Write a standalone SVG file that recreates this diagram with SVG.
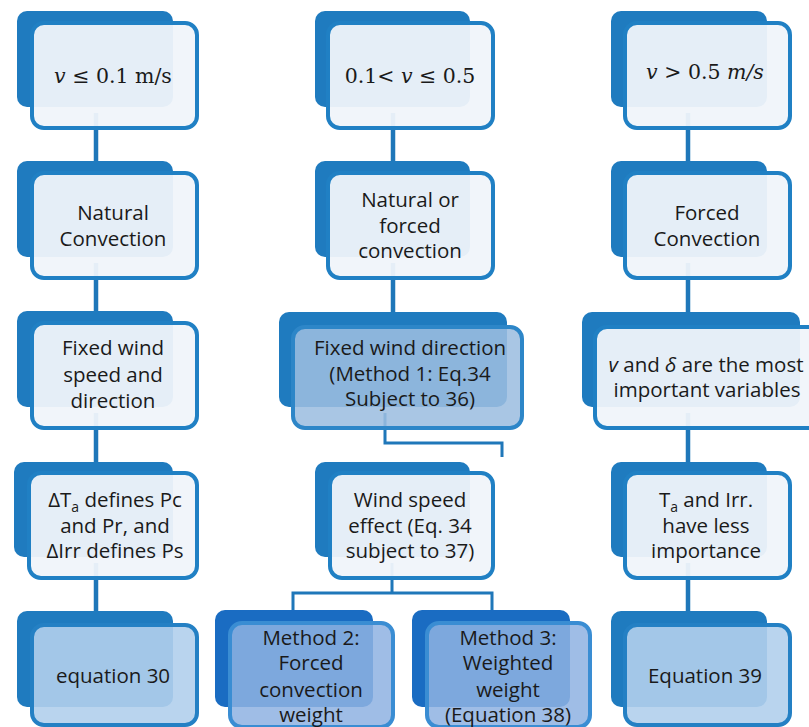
<svg xmlns="http://www.w3.org/2000/svg" width="809" height="727" viewBox="0 0 809 727">
<style>
.back{fill:#1f7bbf}
.backm{fill:#1a6cc2}
.front{fill:#f0f4fa;fill-opacity:.95;stroke:#2080c4;stroke-width:4}
.sel{fill:#9dbee0;fill-opacity:.875;stroke:#2d86c8;stroke-width:4}
.meth{fill:#8fb2e2;fill-opacity:.856;stroke:#3a8dd3;stroke-width:4}
.eq{fill:#b1cfec;fill-opacity:.9;stroke:#2480c4;stroke-width:4}
.t{font-family:"Open Sans","Noto Sans",sans-serif;font-size:20.5px;fill:#1a1a1a;text-anchor:middle}
.m{font-family:"DejaVu Serif","Liberation Serif",serif;font-size:20.5px;fill:#1a1a1a;text-anchor:middle}
.i{font-style:italic}
.sub{font-size:14px}
.c{fill:none;stroke:#1f77b9;stroke-width:4.5}
.cb{fill:none;stroke:#1f77b9;stroke-width:3}
</style>
<g id="connectors">
<path class="c" d="M96 113V161M96 263V311M96 413V462M96 563V611"/>
<path class="c" d="M393 113V161M393 263V312"/>
<path class="cb" d="M385 413V443H502V457"/>
<path class="cb" d="M392 563V593M293 610V593H492V610"/>
<path class="c" d="M688 113V161M688 263V312M688 413V462M688 563V611"/>
</g>
<g id="n1">
<rect class="back" x="17" y="11" width="156" height="96" rx="10"/>
<rect class="front" x="32" y="23" width="165" height="105" rx="12"/>
<text class="m" x="113" y="83"><tspan class="i">v</tspan> ≤ 0.1 m/s</text>
</g>
<g id="n2">
<rect class="back" x="315" y="11" width="155" height="96" rx="10"/>
<rect class="front" x="328" y="23" width="165" height="105" rx="12"/>
<text class="m" x="410" y="83">0.1&lt; <tspan class="i">v</tspan> ≤ 0.5</text>
</g>
<g id="n3">
<rect class="back" x="611" y="11" width="156" height="96" rx="10"/>
<rect class="front" x="625" y="23" width="165" height="105" rx="12"/>
<text class="m" x="705" y="79"><tspan class="i">v</tspan> &gt; 0.5 <tspan class="i">m/s</tspan></text>
</g>
<g id="n4">
<rect class="back" x="17" y="161" width="156" height="96" rx="10"/>
<rect class="front" x="32" y="173" width="165" height="105" rx="12"/>
<text class="t" x="113" y="220">Natural</text>
<text class="t" x="113" y="246">Convection</text>
</g>
<g id="n5">
<rect class="back" x="315" y="161" width="155" height="96" rx="10"/>
<rect class="front" x="328" y="173" width="165" height="105" rx="12"/>
<text class="t" x="410" y="207">Natural or</text>
<text class="t" x="410" y="233">forced</text>
<text class="t" x="410" y="258">convection</text>
</g>
<g id="n6">
<rect class="back" x="611" y="161" width="156" height="96" rx="10"/>
<rect class="front" x="625" y="173" width="165" height="105" rx="12"/>
<text class="t" x="707" y="220">Forced</text>
<text class="t" x="707" y="246">Convection</text>
</g>
<g id="n7">
<rect class="back" x="17" y="311" width="156" height="96" rx="10"/>
<rect class="front" x="32" y="323" width="165" height="105" rx="12"/>
<text class="t" x="113" y="355">Fixed wind</text>
<text class="t" x="113" y="382">speed and</text>
<text class="t" x="113" y="408">direction</text>
</g>
<g id="n8">
<rect class="back" x="279" y="312" width="228" height="95" rx="10"/>
<rect class="sel" x="293" y="327" width="229" height="101" rx="12"/>
<text class="t" x="410" y="355">Fixed wind direction</text>
<text class="t" x="410" y="381">(Method 1: Eq.34</text>
<text class="t" x="410" y="406">Subject to 36)</text>
</g>
<g id="n9">
<rect class="back" x="582" y="312" width="218" height="95" rx="10"/>
<rect class="front" x="595" y="327" width="232" height="101" rx="12"/>
<text class="t" x="706" y="372"><tspan class="i">v</tspan> and <tspan class="i">δ</tspan> are the most</text>
<text class="t" x="707" y="397">important variables</text>
</g>
<g id="n10">
<rect class="back" x="14" y="462" width="159" height="95" rx="10"/>
<rect class="front" x="29" y="473" width="168" height="105" rx="12"/>
<text class="t" x="115" y="507">ΔT<tspan class="sub" dy="5">a</tspan><tspan dy="-5"> defines Pc</tspan></text>
<text class="t" x="115" y="533">and Pr, and</text>
<text class="t" x="115" y="558">ΔIrr defines Ps</text>
</g>
<g id="n11">
<rect class="back" x="315" y="462" width="155" height="95" rx="10"/>
<rect class="front" x="330" y="473" width="163" height="105" rx="12"/>
<text class="t" x="410" y="507">Wind speed</text>
<text class="t" x="410" y="533">effect (Eq. 34</text>
<text class="t" x="410" y="558">subject to 37)</text>
</g>
<g id="n12">
<rect class="back" x="611" y="462" width="156" height="95" rx="10"/>
<rect class="front" x="625" y="473" width="165" height="105" rx="12"/>
<text class="t" x="706" y="507">T<tspan class="sub" dy="5">a</tspan><tspan dy="-5"> and Irr.</tspan></text>
<text class="t" x="706" y="533">have less</text>
<text class="t" x="706" y="558">importance</text>
</g>
<g id="n13">
<rect class="back" x="17" y="611" width="156" height="96" rx="10"/>
<rect class="eq" x="32" y="625" width="165" height="100" rx="12"/>
<text class="t" x="113" y="683">equation 30</text>
</g>
<g id="n14">
<rect class="backm" x="215" y="610" width="158" height="97" rx="10"/>
<rect class="meth" x="230" y="623" width="163" height="104" rx="12"/>
<text class="t" x="311" y="645">Method 2:</text>
<text class="t" x="311" y="670">Forced</text>
<text class="t" x="311" y="697">convection</text>
<text class="t" x="311" y="722">weight</text>
</g>
<g id="n15">
<rect class="backm" x="412" y="610" width="158" height="97" rx="10"/>
<rect class="meth" x="427" y="623" width="163" height="104" rx="12"/>
<text class="t" x="508" y="645">Method 3:</text>
<text class="t" x="508" y="670">Weighted</text>
<text class="t" x="508" y="697">weight</text>
<text class="t" x="508" y="722">(Equation 38)</text>
</g>
<g id="n16">
<rect class="back" x="611" y="611" width="156" height="96" rx="10"/>
<rect class="eq" x="625" y="625" width="165" height="100" rx="12"/>
<text class="t" x="705" y="683">Equation 39</text>
</g>
</svg>
